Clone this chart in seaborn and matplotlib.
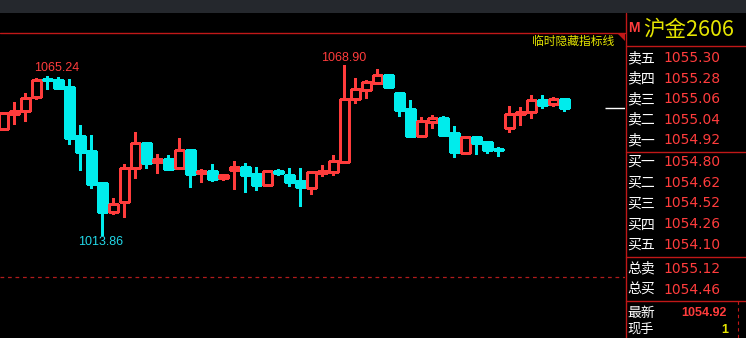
import numpy as np
import pandas as pd
import matplotlib
matplotlib.use('Agg')
import matplotlib.pyplot as plt
import seaborn as sns
from matplotlib.patches import Rectangle, Polygon
from matplotlib.lines import Line2D

# ---------------- data ----------------
opens = [1048.0, 1052.9, 1053.9, 1058.4, 1064.2, 1063.9, 1061.8, 1045.9, 1041.0, 1030.6,
         1021.3, 1024.6, 1035.4, 1043.6, 1037.6, 1038.4, 1035.4, 1041.3, 1033.8, 1034.5,
         1032.1, 1035.0, 1035.8, 1033.6, 1030.1, 1034.5, 1033.2, 1031.3, 1029.1, 1034.0,
         1034.3, 1037.6, 1057.8, 1060.9, 1063.2, 1065.7, 1059.8, 1054.6, 1046.0, 1050.5,
         1051.7, 1046.9, 1040.5, 1045.6, 1043.9, 1041.8, 1048.6, 1052.9, 1053.6, 1057.6,
         1056.1, 1057.9]
highs = [1053.6, 1056.9, 1059.8, 1064.8, 1065.24, 1065.0, 1064.4, 1049.4, 1046.2, 1030.6,
         1025.8, 1036.7, 1047.2, 1044.0, 1040.0, 1039.7, 1045.3, 1041.7, 1035.2, 1036.8,
         1033.4, 1037.8, 1037.1, 1035.9, 1035.0, 1035.2, 1035.5, 1035.5, 1034.5, 1036.4,
         1039.7, 1068.90, 1064.8, 1064.0, 1067.5, 1066.1, 1060.1, 1057.4, 1051.9, 1052.6,
         1052.3, 1049.1, 1045.7, 1045.9, 1044.3, 1042.3, 1055.6, 1055.4, 1059.2, 1059.2,
         1058.5, 1057.9]
lows = [1048.0, 1049.9, 1050.9, 1057.8, 1061.2, 1061.5, 1043.4, 1035.0, 1029.1, 1013.86,
        1020.7, 1019.7, 1032.4, 1035.6, 1034.0, 1034.8, 1035.4, 1029.4, 1031.1, 1031.4,
        1031.7, 1028.7, 1027.7, 1028.4, 1029.7, 1033.2, 1029.7, 1023.3, 1027.2, 1033.0,
        1033.3, 1037.6, 1056.7, 1058.3, 1062.9, 1061.9, 1052.5, 1045.7, 1046.0, 1048.5,
        1046.0, 1038.9, 1040.5, 1040.1, 1040.5, 1039.5, 1047.3, 1049.4, 1051.8, 1055.1,
        1055.7, 1054.1]
closes = [1053.2, 1054.0, 1058.1, 1063.9, 1063.9, 1061.5, 1045.3, 1040.8, 1030.4, 1021.3,
          1023.8, 1035.5, 1043.5, 1037.2, 1038.4, 1035.3, 1041.3, 1033.7, 1034.4, 1032.0,
          1033.1, 1035.8, 1033.2, 1030.0, 1034.5, 1033.9, 1031.1, 1029.4, 1034.1, 1034.5,
          1037.7, 1057.8, 1061.0, 1063.3, 1065.6, 1061.9, 1054.4, 1045.9, 1050.7, 1051.6,
          1046.2, 1040.8, 1045.4, 1043.7, 1041.4, 1041.2, 1052.9, 1053.7, 1057.4, 1056.0,
          1057.8, 1054.92]

marked_high_1 = 1065.24
marked_low = 1013.86
marked_high_2 = 1068.90

ask_labels = ['卖五', '卖四', '卖三', '卖二', '卖一']
ask_prices = ['1055.30', '1055.28', '1055.06', '1055.04', '1054.92']
bid_labels = ['买一', '买二', '买三', '买四', '买五']
bid_prices = ['1054.80', '1054.62', '1054.52', '1054.26', '1054.10']
total_labels = ['总卖', '总买']
total_prices = ['1055.12', '1054.46']
last_label = '最新'
last_price = 1054.92
volume_label = '现手'
last_volume = '1'
contract = '沪金2606'
hidden_line_label = '临时隐藏指标线'
ref_level = 1000

# ---------------- style ----------------
sns.set_theme(style='dark')
plt.rcParams['font.family'] = ['DejaVu Sans', 'Noto Sans CJK SC']

RED = '#ff3c3c'
CYAN = '#00ecec'
DARKRED = '#c01818'
YELLOW = '#e6e600'

W, H = 746, 338
fig = plt.figure(figsize=(W / 100, H / 100), dpi=100, facecolor='black')


def fx(px):
    return px / W


def fy(py):
    return 1 - py / H


# top gray strip
fig.add_artist(Rectangle((0, fy(13)), 1, 13 / H, transform=fig.transFigure,
                         facecolor='#25282d', edgecolor='none'))

# ---------------- candlestick axes ----------------
ax = fig.add_axes([0, 0, 625 / W, 325 / H])
ax.set_facecolor('black')
for s in ax.spines.values():
    s.set_visible(False)
ax.set_xticks([])
ax.set_yticks([])
ax.grid(False)

df = pd.DataFrame({'open': opens, 'high': highs, 'low': lows, 'close': closes})
df['x'] = np.arange(len(df))
df['up'] = df['close'] >= df['open']
cols = np.where(df['up'], RED, CYAN)

ax.vlines(df['x'], df['low'], df['high'], colors=cols, lw=1.0, zorder=2,
          antialiased=False)
body_bottom = np.minimum(df['open'], df['close'])
body_h = np.maximum(np.abs(df['close'] - df['open']), 0.3)
ax.bar(df['x'], body_h, bottom=body_bottom, width=0.77,
       color=np.where(df['up'], 'black', CYAN), edgecolor=cols, linewidth=1.0,
       zorder=3, antialiased=False)

ax.set_xlim(-0.318, 56.5)
ax.set_ylim(980.35, 1085.77)

# reference dashed level
ax.axhline(ref_level, color='#b01c1c', lw=0.9, dashes=(3, 3), zorder=1)
# current price marker
ax.hlines(last_price, 54.7, 56.6, color='white', lw=1.0, zorder=2)

# extreme-value annotations
i_h1 = highs.index(marked_high_1)
i_lo = lows.index(marked_low)
i_h2 = highs.index(marked_high_2)
ann_font = dict(family='Liberation Sans', fontsize=9)
ax.annotate(f'{marked_high_1:.2f}', (i_h1, marked_high_1), xytext=(9.5, 8.5),
            textcoords='offset pixels', ha='center', va='center', color=RED, **ann_font)
ax.annotate(f'{marked_low:.2f}', (i_lo, marked_low), xytext=(-1.5, -7.5),
            textcoords='offset pixels', ha='center', va='center', color='#22d8e8', **ann_font)
ax.annotate(f'{marked_high_2:.2f}', (i_h2, marked_high_2), xytext=(-1, 7.5),
            textcoords='offset pixels', ha='center', va='center', color=RED, **ann_font)

# ---------------- UI lines ----------------
def hline(y, x0, x1, **kw):
    fig.add_artist(Line2D([fx(x0), fx(x1)], [fy(y), fy(y)], transform=fig.transFigure, **kw))


def vline(x, y0, y1, **kw):
    fig.add_artist(Line2D([fx(x), fx(x)], [fy(y0), fy(y1)], transform=fig.transFigure, **kw))


hline(32.5, 0, 625, color=DARKRED, lw=1.0)
fig.add_artist(Polygon([(fx(617), fy(33)), (fx(625), fy(33)), (fx(625), fy(41))],
                       closed=True, transform=fig.transFigure, facecolor=DARKRED, edgecolor='none'))
fig.text(fx(614), fy(41.5), hidden_line_label, ha='right', va='center', color=YELLOW,
         fontsize=8.5, family=['Noto Sans CJK SC', 'DejaVu Sans'])

vline(625.5, 13, 338, color=DARKRED, lw=1.0)
for yy in [45.5, 152.5, 256.5, 301]:
    hline(yy, 625.5, 746, color=DARKRED, lw=1.0)
vline(737.5, 301, 338, color=DARKRED, lw=0.8, dashes=(3, 3))

# ---------------- right panel ----------------
cjk = ['Noto Sans CJK SC', 'DejaVu Sans']
fig.text(fx(628), fy(27.5), 'M', ha='left', va='center', color=RED, fontsize=10,
         family='Liberation Sans', fontweight='bold')
fig.text(fx(643), fy(30.5), contract, ha='left', va='center', color=YELLOW, fontsize=15.5,
         family=cjk)

rows_y = [58.3, 78.8, 99.3, 119.8, 140.5, 161.8, 182.7, 203.3, 224.2, 245.0, 268.7, 290.0]
labels = ask_labels + bid_labels + total_labels
values = ask_prices + bid_prices + total_prices
for yy, lab, val in zip(rows_y, labels, values):
    fig.text(fx(627), fy(yy), lab, ha='left', va='center', color='white', fontsize=10,
             family=cjk)
    fig.text(fx(663), fy(yy), val, ha='left', va='center', color=RED, fontsize=10,
             family='DejaVu Sans')

fig.text(fx(627), fy(313.5), last_label, ha='left', va='center', color='white', fontsize=10,
         family=cjk)
fig.text(fx(727), fy(312.5), f'{last_price:.2f}', ha='right', va='center', color=RED,
         fontsize=9, family='Liberation Sans', fontweight='bold')
fig.text(fx(627), fy(329.5), volume_label, ha='left', va='center', color='white', fontsize=9.5,
         family=cjk)
fig.text(fx(728), fy(330), last_volume, ha='right', va='center', color=YELLOW,
         fontsize=9, family='Liberation Sans', fontweight='bold')

fig.savefig('out.png', dpi=100, facecolor='black')
